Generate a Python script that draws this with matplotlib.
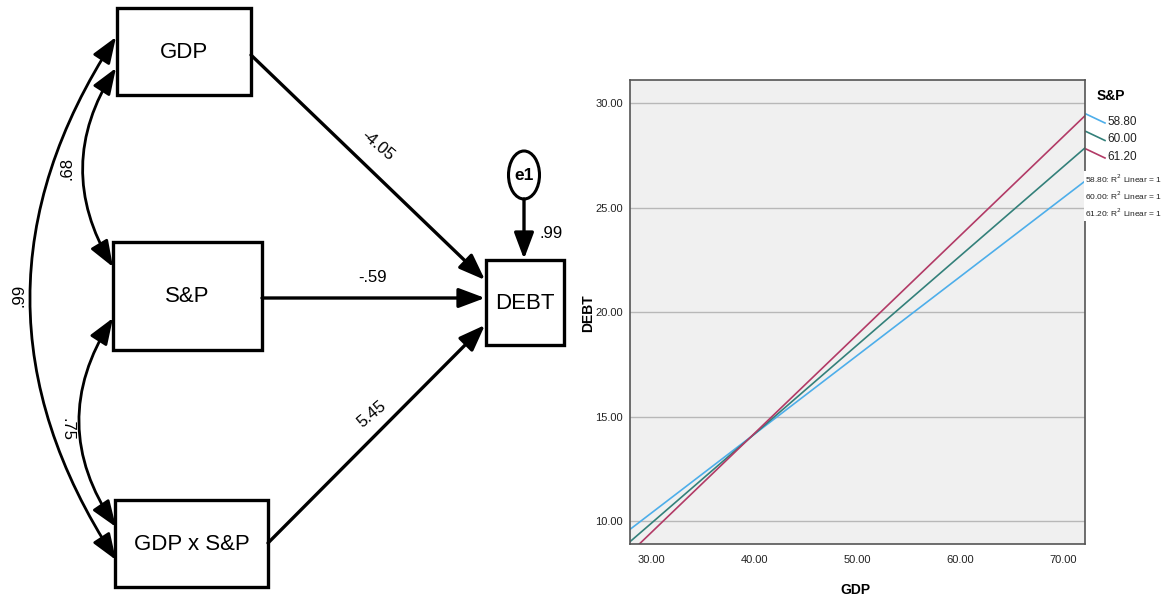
import numpy as np
import matplotlib.pyplot as plt
from matplotlib.patches import Rectangle, Ellipse, FancyArrowPatch

plt.rcParams['font.family'] = ['Liberation Sans', 'DejaVu Sans']

# simple slopes data
sp_levels = ['58.80', '60.00', '61.20']
gdp_ends = [27.88, 72.08]
debt_5880 = [9.60, 26.27]
debt_6000 = [9.01, 27.86]
debt_6120 = [8.47, 29.40]
line_colors = ['#4daeea', '#33807a', '#b23a66']

x_ticks = [30, 40, 50, 60, 70]
y_ticks = [10, 15, 20, 25, 30]

# path model values
path_coefs = ['-4.05', '-.59', '5.45']
cov_values = ['.68', '.75', '.99']
r2_debt = '.99'

W, H = 1165, 599
fig = plt.figure(figsize=(W / 100, H / 100), dpi=100)

# ---- left: path diagram, drawn in pixel coordinates
ax0 = fig.add_axes([0, 0, 1, 1])
ax0.set_xlim(0, W)
ax0.set_ylim(H, 0)
ax0.axis('off')

boxes = {
    'GDP': (117, 8, 134, 87),
    'S&P': (113, 242, 149, 108),
    'GDP x S&P': (115, 500, 153, 87),
    'DEBT': (486, 260, 78, 85),
}
for name, (bx, by, bw, bh) in boxes.items():
    ax0.add_patch(Rectangle((bx, by), bw, bh, fc='white', ec='black', lw=2.4, zorder=2))
    ax0.text(bx + bw / 2, by + bh / 2 + 1, name, ha='center', va='center', fontsize=16, zorder=3)

# error term
ax0.add_patch(Ellipse((524, 175), 31, 48, fc='white', ec='black', lw=2.2, zorder=2))
ax0.text(524, 176, 'e1', ha='center', va='center', fontsize=12.5, fontweight='bold', zorder=3)


def arrow(p1, p2, style='-|>,head_length=0.8,head_width=0.3', rad=0.0, lw=2.4):
    a = FancyArrowPatch(p1, p2, arrowstyle=style, connectionstyle=f'arc3,rad={rad}',
                        mutation_scale=20, lw=lw, color='black',
                        shrinkA=0, shrinkB=0, zorder=4)
    ax0.add_patch(a)


# regression paths
arrow((251, 55), (485, 280))
arrow((262, 298), (485, 298))
arrow((268, 543), (485, 325))
arrow((524, 199), (524, 259))

ax0.text(378, 146, path_coefs[0], rotation=-40, ha='center', va='center', fontsize=12)
ax0.text(373, 277, path_coefs[1], ha='center', va='center', fontsize=12)
ax0.text(372, 414, path_coefs[2], rotation=40, ha='center', va='center', fontsize=12)
ax0.text(551, 234, r2_debt, ha='center', va='center', fontsize=12)

# covariances
cov_style = '<|-|>,head_length=0.8,head_width=0.3'
arrow((116, 68), (113, 267), style=cov_style, rad=0.31, lw=2.0)
arrow((113, 318), (116, 527), style=cov_style, rad=0.33, lw=2.0)
arrow((116, 37), (116, 560), style=cov_style, rad=0.325, lw=2.0)

ax0.text(67, 168, cov_values[0], rotation=90, ha='center', va='center', fontsize=12)
ax0.text(67, 430, cov_values[1], rotation=-90, ha='center', va='center', fontsize=12)
ax0.text(19, 295, cov_values[2], rotation=90, ha='center', va='center', fontsize=12)

# ---- right: simple slopes chart
ax = fig.add_axes([630 / W, 1 - 544 / H, 455 / W, 464 / H])
ax.set_facecolor('#f0f0f0')
for debt, col in zip([debt_5880, debt_6000, debt_6120], line_colors):
    ax.plot(gdp_ends, debt, color=col, lw=1.2)

ax.set_xlim(27.88, 72.08)
ax.set_ylim(8.90, 31.11)
ax.set_xticks(x_ticks)
ax.set_yticks(y_ticks)
ax.set_xticklabels([f'{v:.2f}' for v in x_ticks])
ax.set_yticklabels([f'{v:.2f}' for v in y_ticks])
ax.tick_params(length=0, labelsize=8, colors='#222222')
ax.tick_params(axis='x', pad=8)
ax.tick_params(axis='y', pad=5)
ax.grid(axis='y', color='#b8b8b8', lw=1)
ax.set_axisbelow(True)
for s in ax.spines.values():
    s.set_color('#555555')
    s.set_linewidth(1.2)

ax.set_xlabel('GDP', fontsize=10, fontweight='bold')
ax.set_ylabel('DEBT', fontsize=10, fontweight='bold')
ax.xaxis.set_label_coords((855 - 630) / 455, (544 - 590) / 464)
ax.yaxis.set_label_coords((588 - 630) / 455, (544 - 313) / 464)
ax.xaxis.label.set_va('center')
ax.yaxis.label.set_va('center')

# legend, drawn by hand like the SPSS one
fig.text(1097 / W, 1 - 96 / H, 'S&P', fontsize=10, fontweight='bold', va='center')
for i, (lab, col) in enumerate(zip(sp_levels, line_colors)):
    y0 = 114 + i * 17.5
    ax0.plot([1086, 1105], [y0, y0 + 9], color=col, lw=1.2)
    fig.text(1107 / W, 1 - (y0 + 8) / H, lab, fontsize=8.5, va='center', color='#222222')

r2_txt = '\n'.join(f'{lab}: R$^2$ Linear = 1' for lab in sp_levels)
fig.text(1085 / W, 1 - 196 / H, r2_txt, fontsize=6.0, va='center', ha='left',
         linespacing=1.45, color='#222222',
         bbox=dict(fc='white', ec='none', pad=1.0))

fig.savefig('out.png', dpi=100)
